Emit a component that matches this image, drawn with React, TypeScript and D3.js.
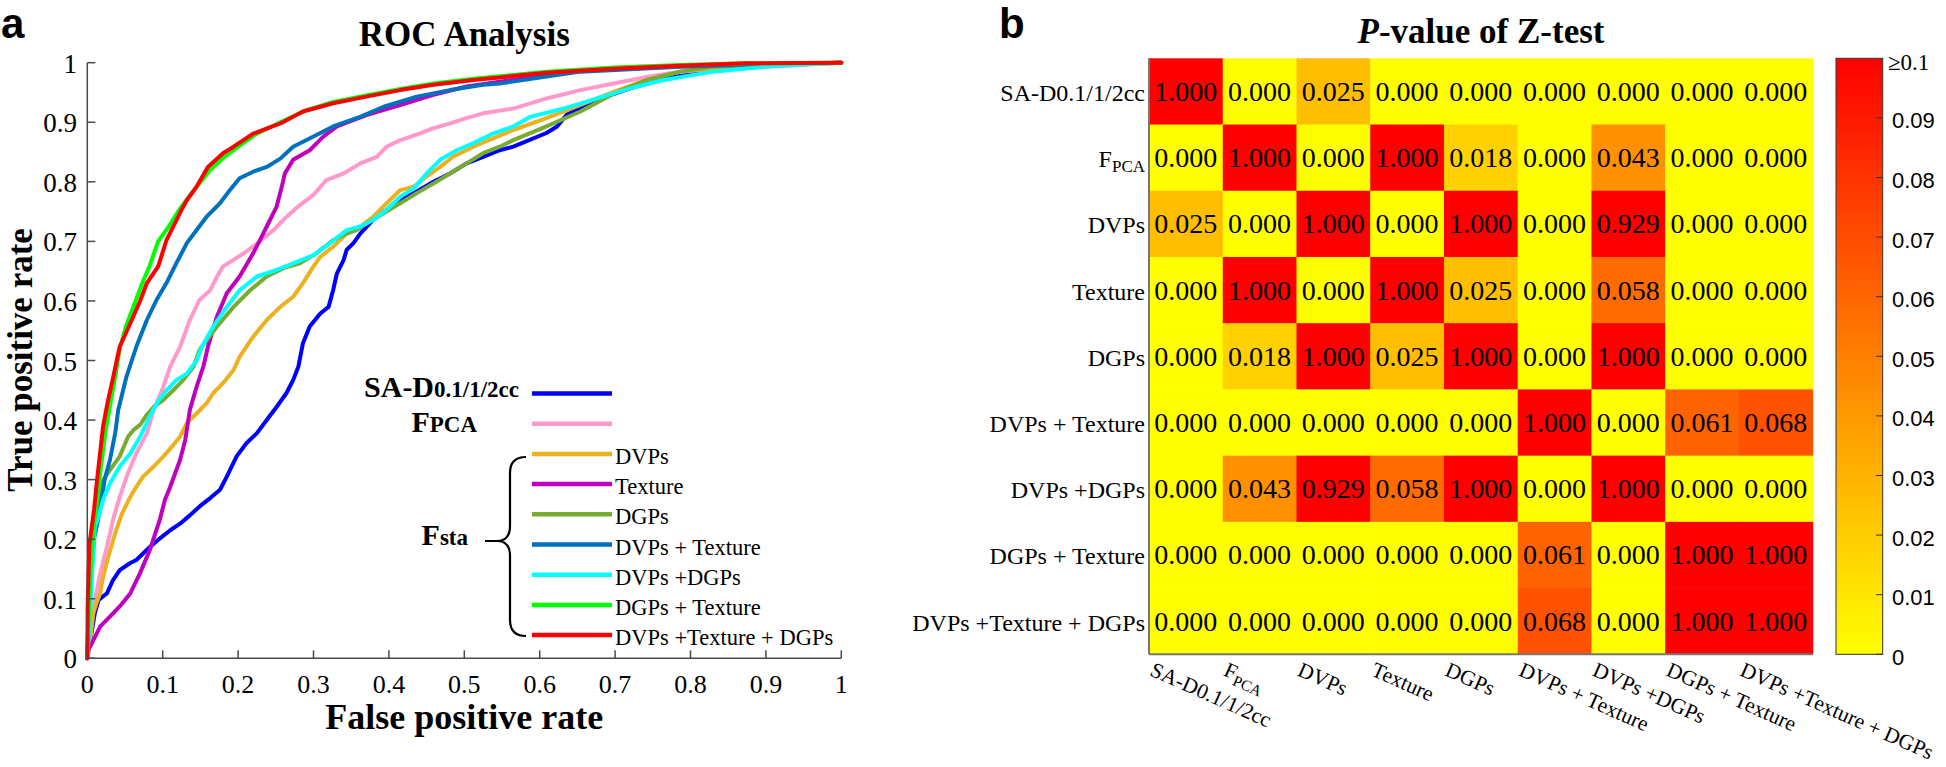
import React from 'react';
import * as d3 from 'd3';

type Pt = [number, number];

// ---------- ROC data (false positive rate, true positive rate) ----------
const rocSAD: Pt[] = [[0,0],[0.004,0.03],[0.010,0.076],[0.015,0.098],[0.026,0.109],[0.034,0.131],[0.043,0.148],[0.057,0.160],[0.065,0.165],[0.074,0.176],[0.083,0.187],[0.096,0.201],[0.110,0.215],[0.123,0.226],[0.136,0.240],[0.149,0.255],[0.163,0.269],[0.176,0.283],[0.185,0.305],[0.198,0.339],[0.211,0.361],[0.225,0.378],[0.238,0.400],[0.251,0.422],[0.264,0.445],[0.273,0.467],[0.280,0.490],[0.286,0.529],[0.295,0.557],[0.309,0.579],[0.320,0.590],[0.326,0.618],[0.331,0.646],[0.340,0.669],[0.344,0.686],[0.353,0.697],[0.362,0.713],[0.379,0.736],[0.397,0.753],[0.415,0.769],[0.433,0.781],[0.459,0.800],[0.481,0.814],[0.503,0.831],[0.525,0.842],[0.547,0.853],[0.565,0.859],[0.609,0.882],[0.623,0.893],[0.636,0.913],[0.654,0.924],[0.676,0.938],[0.720,0.957],[0.764,0.973],[0.830,0.987],[0.919,0.996],[1,1]];
const rocFPCA: Pt[] = [[0,0],[0.004,0.05],[0.010,0.098],[0.017,0.142],[0.026,0.187],[0.034,0.232],[0.043,0.271],[0.054,0.311],[0.065,0.344],[0.079,0.378],[0.088,0.417],[0.101,0.456],[0.110,0.490],[0.123,0.523],[0.136,0.568],[0.149,0.602],[0.163,0.618],[0.172,0.641],[0.180,0.658],[0.194,0.669],[0.211,0.683],[0.229,0.700],[0.247,0.719],[0.264,0.741],[0.282,0.761],[0.300,0.778],[0.317,0.803],[0.340,0.814],[0.362,0.831],[0.384,0.842],[0.397,0.859],[0.415,0.870],[0.441,0.881],[0.459,0.890],[0.481,0.898],[0.503,0.907],[0.525,0.915],[0.565,0.923],[0.609,0.940],[0.654,0.954],[0.698,0.965],[0.742,0.976],[0.786,0.985],[0.830,0.990],[0.897,0.993],[0.963,0.998],[1,1]];
const rocDVPs: Pt[] = [[0,0],[0.004,0.031],[0.008,0.076],[0.012,0.092],[0.017,0.109],[0.021,0.137],[0.028,0.171],[0.037,0.210],[0.046,0.243],[0.057,0.271],[0.065,0.288],[0.074,0.305],[0.088,0.322],[0.101,0.339],[0.112,0.355],[0.123,0.372],[0.132,0.395],[0.145,0.411],[0.158,0.428],[0.167,0.445],[0.180,0.462],[0.194,0.484],[0.202,0.506],[0.220,0.540],[0.238,0.568],[0.256,0.590],[0.273,0.607],[0.286,0.630],[0.300,0.658],[0.309,0.674],[0.326,0.691],[0.344,0.713],[0.362,0.725],[0.379,0.741],[0.397,0.764],[0.415,0.786],[0.433,0.792],[0.450,0.809],[0.468,0.825],[0.485,0.842],[0.512,0.859],[0.538,0.873],[0.565,0.887],[0.609,0.907],[0.654,0.929],[0.698,0.951],[0.742,0.971],[0.786,0.985],[0.874,0.996],[1,1]];
const rocTexture: Pt[] = [[0,0],[0.001,0.014],[0.006,0.025],[0.017,0.053],[0.030,0.070],[0.043,0.087],[0.057,0.109],[0.070,0.143],[0.083,0.182],[0.096,0.232],[0.103,0.266],[0.110,0.288],[0.123,0.333],[0.130,0.367],[0.136,0.417],[0.145,0.456],[0.154,0.490],[0.160,0.523],[0.172,0.574],[0.185,0.613],[0.202,0.641],[0.220,0.680],[0.229,0.702],[0.238,0.725],[0.251,0.758],[0.258,0.792],[0.262,0.814],[0.273,0.837],[0.295,0.853],[0.313,0.876],[0.331,0.893],[0.370,0.912],[0.415,0.929],[0.459,0.946],[0.503,0.960],[0.547,0.968],[0.654,0.987],[0.786,0.994],[0.900,0.998],[1,1]];
const rocDGPs: Pt[] = [[0,0],[0.001,0.05],[0.003,0.109],[0.008,0.210],[0.015,0.266],[0.021,0.299],[0.030,0.316],[0.043,0.339],[0.054,0.372],[0.061,0.383],[0.070,0.392],[0.079,0.409],[0.088,0.422],[0.101,0.434],[0.114,0.450],[0.127,0.467],[0.141,0.490],[0.149,0.518],[0.172,0.557],[0.194,0.590],[0.216,0.618],[0.238,0.641],[0.260,0.655],[0.282,0.663],[0.304,0.680],[0.326,0.702],[0.344,0.713],[0.357,0.719],[0.370,0.730],[0.393,0.747],[0.415,0.764],[0.437,0.781],[0.459,0.797],[0.481,0.814],[0.503,0.831],[0.525,0.848],[0.547,0.859],[0.565,0.870],[0.609,0.893],[0.654,0.918],[0.698,0.948],[0.742,0.971],[0.786,0.985],[0.830,0.993],[0.919,0.998],[1,1]];
const rocDVPsTexture: Pt[] = [[0,0],[0.002,0.05],[0.004,0.11],[0.009,0.20],[0.017,0.25],[0.023,0.30],[0.030,0.333],[0.037,0.378],[0.041,0.417],[0.052,0.473],[0.059,0.5],[0.065,0.523],[0.079,0.568],[0.092,0.602],[0.105,0.630],[0.118,0.663],[0.132,0.697],[0.145,0.719],[0.158,0.741],[0.176,0.764],[0.189,0.786],[0.202,0.806],[0.220,0.817],[0.238,0.825],[0.256,0.839],[0.273,0.859],[0.300,0.876],[0.326,0.893],[0.362,0.909],[0.393,0.926],[0.437,0.943],[0.481,0.954],[0.525,0.963],[0.547,0.965],[0.654,0.985],[0.786,0.993],[0.919,0.998],[1,1]];
const rocDVPsDGPs: Pt[] = [[0,0],[0.002,0.04],[0.004,0.081],[0.006,0.137],[0.010,0.221],[0.015,0.238],[0.021,0.266],[0.030,0.294],[0.043,0.322],[0.057,0.344],[0.070,0.372],[0.083,0.406],[0.092,0.428],[0.105,0.450],[0.118,0.467],[0.132,0.478],[0.145,0.500],[0.152,0.523],[0.167,0.557],[0.185,0.590],[0.202,0.618],[0.225,0.641],[0.251,0.652],[0.273,0.663],[0.300,0.677],[0.322,0.697],[0.344,0.719],[0.362,0.725],[0.379,0.736],[0.397,0.753],[0.415,0.775],[0.433,0.789],[0.450,0.814],[0.468,0.837],[0.490,0.853],[0.512,0.865],[0.538,0.881],[0.565,0.893],[0.587,0.909],[0.632,0.923],[0.676,0.940],[0.720,0.957],[0.764,0.971],[0.830,0.985],[0.897,0.993],[1,1]];
const rocDGPsTexture: Pt[] = [[0,0],[0.002,0.08],[0.005,0.17],[0.011,0.25],[0.016,0.30],[0.024,0.38],[0.031,0.43],[0.038,0.48],[0.043,0.52],[0.052,0.56],[0.064,0.60],[0.073,0.63],[0.083,0.66],[0.094,0.70],[0.108,0.725],[0.123,0.755],[0.133,0.772],[0.146,0.793],[0.163,0.82],[0.182,0.842],[0.198,0.857],[0.222,0.879],[0.256,0.9],[0.288,0.919],[0.326,0.934],[0.370,0.945],[0.415,0.956],[0.459,0.965],[0.512,0.973],[0.609,0.985],[0.698,0.992],[0.786,0.996],[0.874,0.999],[1,1]];
const rocAll: Pt[] = [[0,0],[0.0005,0.09],[0.0027,0.19],[0.009,0.25],[0.013,0.30],[0.021,0.39],[0.027,0.43],[0.034,0.47],[0.039,0.50],[0.043,0.523],[0.059,0.568],[0.070,0.600],[0.079,0.630],[0.094,0.658],[0.105,0.702],[0.125,0.753],[0.132,0.769],[0.145,0.792],[0.160,0.825],[0.180,0.848],[0.194,0.859],[0.220,0.881],[0.256,0.898],[0.286,0.918],[0.326,0.932],[0.370,0.943],[0.415,0.954],[0.459,0.963],[0.512,0.971],[0.609,0.983],[0.698,0.990],[0.786,0.995],[0.874,0.999],[1,1]];

const rocCurves: Pt[][] = [rocSAD, rocFPCA, rocDVPs, rocTexture, rocDGPs, rocDVPsTexture, rocDVPsDGPs, rocDGPsTexture, rocAll];
const rocColors = ['#0000ff', '#ff99cc', '#edb120', '#bf00bf', '#77ac30', '#0072bd', '#00ffff', '#00ff00', '#ff0000'];
const fstaNames = ['DVPs', 'Texture', 'DGPs', 'DVPs + Texture', 'DVPs +DGPs', 'DGPs + Texture', 'DVPs +Texture + DGPs'];
const rocTicks = [0, 0.1, 0.2, 0.3, 0.4, 0.5, 0.6, 0.7, 0.8, 0.9, 1];

// ---------- Z-test p-value matrix ----------
const pLabels = ['SA-D0.1/1/2cc', 'FPCA', 'DVPs', 'Texture', 'DGPs', 'DVPs + Texture', 'DVPs +DGPs', 'DGPs + Texture', 'DVPs +Texture + DGPs'];
const pRow1 = [1.000, 0.000, 0.025, 0.000, 0.000, 0.000, 0.000, 0.000, 0.000];
const pRow2 = [0.000, 1.000, 0.000, 1.000, 0.018, 0.000, 0.043, 0.000, 0.000];
const pRow3 = [0.025, 0.000, 1.000, 0.000, 1.000, 0.000, 0.929, 0.000, 0.000];
const pRow4 = [0.000, 1.000, 0.000, 1.000, 0.025, 0.000, 0.058, 0.000, 0.000];
const pRow5 = [0.000, 0.018, 1.000, 0.025, 1.000, 0.000, 1.000, 0.000, 0.000];
const pRow6 = [0.000, 0.000, 0.000, 0.000, 0.000, 1.000, 0.000, 0.061, 0.068];
const pRow7 = [0.000, 0.043, 0.929, 0.058, 1.000, 0.000, 1.000, 0.000, 0.000];
const pRow8 = [0.000, 0.000, 0.000, 0.000, 0.000, 0.061, 0.000, 1.000, 1.000];
const pRow9 = [0.000, 0.000, 0.000, 0.000, 0.000, 0.068, 0.000, 1.000, 1.000];
const pMatrix = [pRow1, pRow2, pRow3, pRow4, pRow5, pRow6, pRow7, pRow8, pRow9];
const cbTicks = [0, 0.01, 0.02, 0.03, 0.04, 0.05, 0.06, 0.07, 0.08, 0.09];

const SERIF = '"Liberation Serif", "Times New Roman", Times, serif';
const SANS = '"Liberation Sans", Arial, Helvetica, sans-serif';
const AXIS = '#4a4a4a';

function Label({ name, x, y, size, anchor, subSize, subDy, weight }: any) {
  if (name === 'FPCA') {
    return (
      <text x={x} y={y} fontSize={size} textAnchor={anchor} fontFamily={SERIF} fontWeight={weight}>
        <tspan>F</tspan>
        <tspan fontSize={subSize} dy={subDy}>PCA</tspan>
      </text>
    );
  }
  return (
    <text x={x} y={y} fontSize={size} textAnchor={anchor} fontFamily={SERIF} fontWeight={weight}>{name}</text>
  );
}

export default function App() {
  // ROC panel scales
  const x = d3.scaleLinear().domain([0, 1]).range([87.3, 841.3]);
  const y = d3.scaleLinear().domain([0, 1]).range([658.3, 62.7]);
  const line = d3.line<Pt>().x(d => x(d[0])).y(d => y(d[1])).curve(d3.curveLinear);

  // heatmap scales
  const hx = d3.scaleBand<string>().domain(pLabels).range([1149, 1812.7]);
  const hy = d3.scaleBand<string>().domain(pLabels).range([58.3, 654.3]);
  const color = (v: number) => {
    const t = Math.max(0, Math.min(1, v / 0.1));
    return d3.rgb(255, Math.round(255 * (1 - t)), 0).toString();
  };
  const cbY = d3.scaleLinear().domain([0, 0.1]).range([654.3, 58.3]);
  const gradStops = d3.range(0, 1.0001, 0.05);

  const legendX1 = 532, legendX2 = 612, legendY0 = 393.5, legendStep = 30.2;
  const fmt = (t: number) => String(+t.toFixed(1));

  return (
    <svg width={1946} height={767} style={{ position: 'absolute', left: 0, top: 0, background: '#fff' }}>
      <defs>
        <linearGradient id="cbgrad" x1="0" y1="1" x2="0" y2="0">
          {gradStops.map((s, i) => (
            <stop key={i} offset={s} stopColor={color(s * 0.1)} />
          ))}
        </linearGradient>
      </defs>
      <rect x={0} y={0} width={1946} height={767} fill="#fff" />

      {/* ============ Panel a ============ */}
      <text x={1} y={38} fontFamily={SANS} fontWeight="bold" fontSize={42}>a</text>
      <text x={464.3} y={46} textAnchor="middle" fontFamily={SERIF} fontWeight="bold" fontSize={35}>ROC Analysis</text>

      {/* curves */}
      <g fill="none" strokeWidth={4} strokeLinejoin="round" strokeLinecap="round">
        {rocCurves.map((c, i) => (
          <path key={i} d={line(c) || ''} stroke={rocColors[i]} />
        ))}
      </g>

      {/* axes */}
      <line x1={x(0)} y1={y(0)} x2={x(0)} y2={y(1)} stroke={AXIS} strokeWidth={1.5} />
      <line x1={x(0)} y1={y(0)} x2={x(1)} y2={y(0)} stroke={AXIS} strokeWidth={1.5} />
      {rocTicks.map((t, i) => (
        <g key={'yt' + i}>
          <line x1={x(0)} x2={x(0) + 8} y1={y(t)} y2={y(t)} stroke={AXIS} strokeWidth={1.5} />
          <text x={77} y={y(t) + 10} textAnchor="end" fontFamily={SERIF} fontSize={27}>{fmt(t)}</text>
        </g>
      ))}
      {rocTicks.map((t, i) => (
        <g key={'xt' + i}>
          <line x1={x(t)} x2={x(t)} y1={y(0)} y2={y(0) - 8} stroke={AXIS} strokeWidth={1.5} />
          <text x={x(t)} y={693} textAnchor="middle" fontFamily={SERIF} fontSize={26}>{fmt(t)}</text>
        </g>
      ))}
      <text x={464.3} y={729} textAnchor="middle" fontFamily={SERIF} fontWeight="bold" fontSize={36}>False positive rate</text>
      <text transform="translate(32,360) rotate(-90)" textAnchor="middle" fontFamily={SERIF} fontWeight="bold" fontSize={35}>True positive rate</text>

      {/* legend */}
      {rocColors.map((c, i) => (
        <line key={'lg' + i} x1={legendX1} x2={legendX2} y1={legendY0 + i * legendStep} y2={legendY0 + i * legendStep} stroke={c} strokeWidth={4.5} />
      ))}
      <text x={519} y={legendY0 + 3.5} textAnchor="end" fontFamily={SERIF} fontWeight="bold">
        <tspan fontSize={30}>SA-D</tspan><tspan fontSize={23}>0.1/1/2cc</tspan>
      </text>
      <text x={477} y={legendY0 + legendStep + 8} textAnchor="end" fontFamily={SERIF} fontWeight="bold">
        <tspan fontSize={30}>F</tspan><tspan fontSize={23}>PCA</tspan>
      </text>
      <text x={468} y={545} textAnchor="end" fontFamily={SERIF} fontWeight="bold">
        <tspan fontSize={30}>F</tspan><tspan fontSize={23}>sta</tspan>
      </text>
      {fstaNames.map((n, i) => (
        <text key={'fn' + i} x={615} y={legendY0 + (i + 2) * legendStep + 10} fontFamily={SERIF} fontSize={22.5}>{n}</text>
      ))}
      <path d="M 526 457 Q 510 457 510 473 L 510 526 Q 510 541 497 541 L 485 541 M 497 541 Q 510 541 510 556 L 510 620 Q 510 636 526 636"
        fill="none" stroke="#000" strokeWidth={2.2} />

      {/* ============ Panel b ============ */}
      <text x={999} y={38} fontFamily={SANS} fontWeight="bold" fontSize={42}>b</text>
      <text x={1481} y={43} textAnchor="middle" fontFamily={SERIF} fontWeight="bold" fontSize={35}>
        <tspan fontStyle="italic">P</tspan>-value of Z-test
      </text>

      {pMatrix.map((row, r) => row.map((v, c) => (
        <g key={'c' + r + '-' + c}>
          <rect x={hx(pLabels[c])} y={hy(pLabels[r])} width={hx.bandwidth() + 0.5} height={hy.bandwidth() + 0.5} fill={color(v)} />
        </g>
      )))}
      {pMatrix.map((row, r) => row.map((v, c) => (
        <text key={'t' + r + '-' + c} x={(hx(pLabels[c]) as number) + hx.bandwidth() / 2} y={(hy(pLabels[r]) as number) + hy.bandwidth() / 2 + 9.5}
          textAnchor="middle" fontFamily={SERIF} fontSize={28}>{v.toFixed(3)}</text>
      )))}
      <line x1={1149} x2={1149} y1={58.3} y2={654.3} stroke="#777" strokeWidth={2} />
      <line x1={1149} x2={1812.7} y1={654.3} y2={654.3} stroke="#777" strokeWidth={2} />

      {pLabels.map((n, r) => (
        <Label key={'rl' + r} name={n} x={1145} y={(hy(n) as number) + hy.bandwidth() / 2 + 9.5} size={24} anchor="end" subSize={17} subDy={5} weight="normal" />
      ))}
      {pLabels.map((n, c) => {
        const cx = (hx(n) as number) + hx.bandwidth() / 2;
        return (
          <g key={'cl' + c} transform={`translate(${cx - 37},675) rotate(24)`}>
            <Label name={n} x={0} y={0} size={21.5} anchor="start" subSize={15.5} subDy={5} weight="normal" />
          </g>
        );
      })}

      {/* colorbar */}
      <rect x={1836} y={58.3} width={46.7} height={596} fill="url(#cbgrad)" stroke="#333" strokeWidth={1} />
      {cbTicks.map((t, i) => (
        <g key={'cb' + i}>
          <line x1={1882.7} x2={1876} y1={cbY(t)} y2={cbY(t)} stroke="#333" strokeWidth={1} />
          <text x={1892} y={cbY(t) + 10.5} fontFamily={SANS} fontSize={22}>{t === 0 ? '0' : t.toFixed(2)}</text>
        </g>
      ))}
      <text x={1888} y={70} fontFamily={SERIF} fontSize={23}>≥0.1</text>
    </svg>
  );
}
